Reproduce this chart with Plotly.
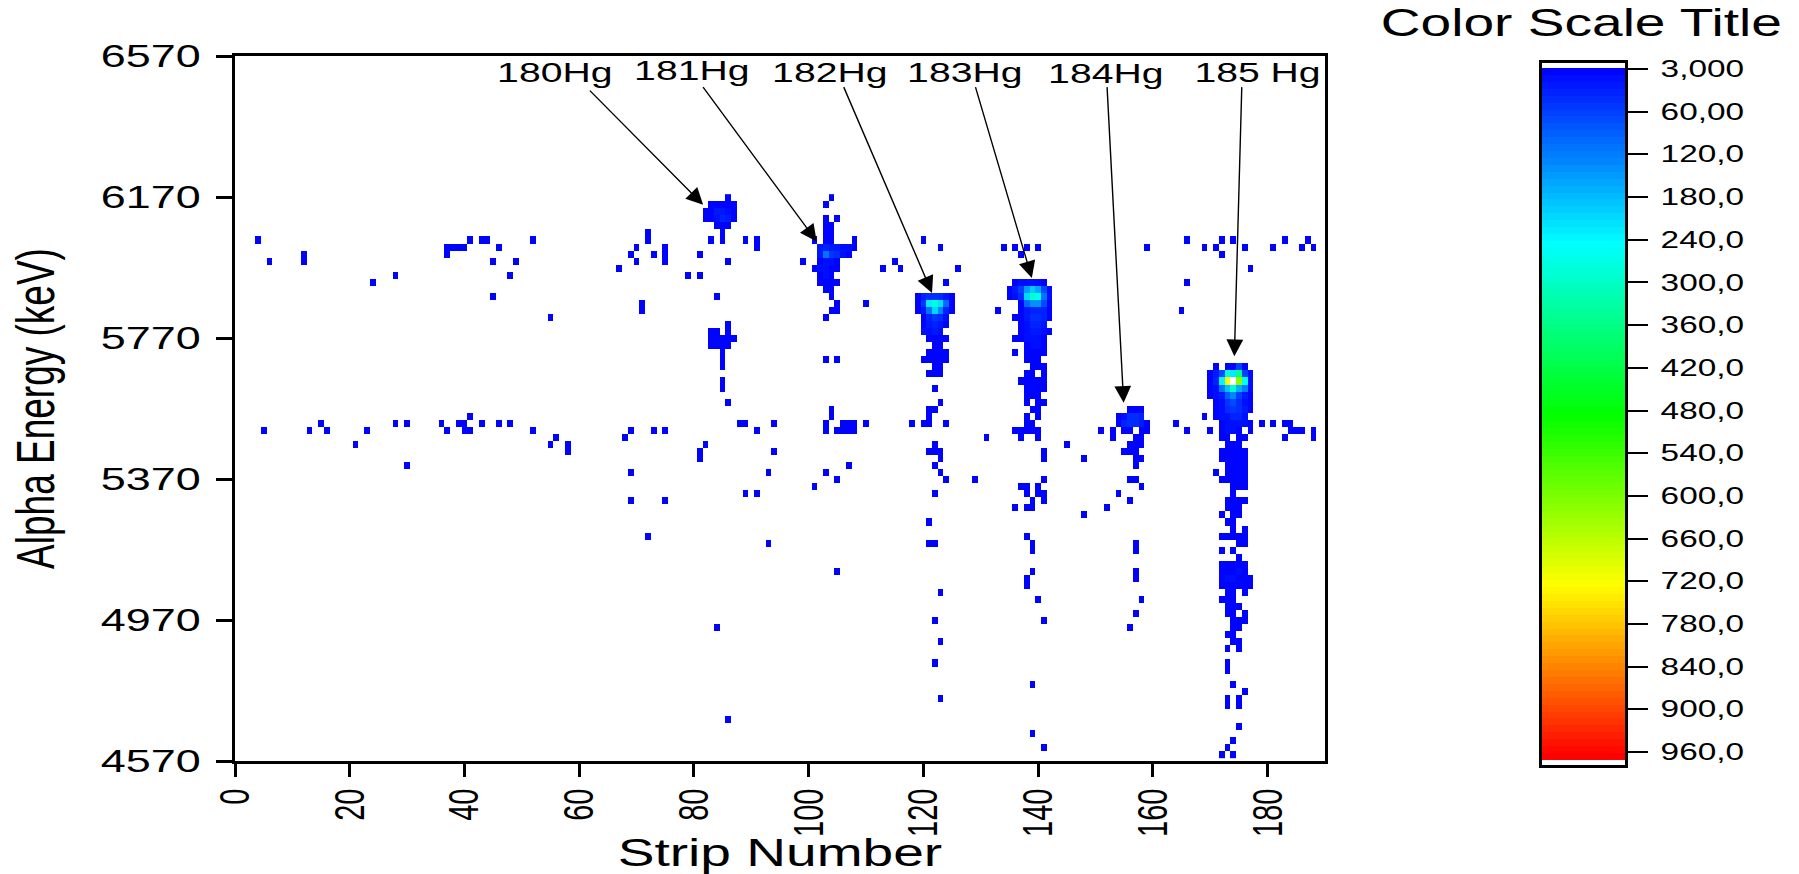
import numpy as np
import plotly.graph_objects as go

strips = list(range(0, 190))
energies = [6168 - 20 * i for i in range(80)]

# Cells with a few counts, listed per energy row (keV -> strip numbers)
low_count_cells = {
    6168: [86, 104],
    6148: [83, 84, 85, 86, 87, 103],
    6128: [82, 83, 84, 85, 86, 87],
    6108: [82, 83, 84, 85, 86, 87, 103, 105],
    6088: [84, 85, 86, 103, 104],
    6068: [72, 85, 103, 104],
    6048: [4, 41, 43, 44, 52, 72, 83, 85, 89, 91, 101, 103, 104, 108, 120, 166, 172, 174, 183, 187],
    6028: [37, 38, 39, 40, 46, 70, 75, 91, 102, 103, 104, 105, 106, 107, 108, 123, 134, 136, 138, 140, 159, 169, 171, 176, 181, 186, 188],
    6008: [12, 37, 69, 73, 75, 81, 102, 103, 104, 105, 106, 107, 137, 172],
    5988: [6, 12, 45, 49, 70, 75, 86, 99, 102, 103, 104, 105, 115],
    5968: [67, 101, 102, 103, 104, 105, 113, 116, 126, 177],
    5948: [28, 48, 79, 81, 102, 103, 104],
    5928: [24, 102, 103, 104, 105, 124, 136, 137, 138, 139, 140, 141, 166],
    5908: [103, 104, 135, 136, 137, 138, 139, 140, 141, 142],
    5888: [45, 84, 104, 119, 120, 121, 122, 123, 124, 125, 135, 136, 137, 138, 139, 140, 141, 142],
    5868: [71, 105, 110, 119, 120, 121, 122, 123, 124, 125, 137, 138, 139, 140, 141, 142],
    5848: [71, 104, 105, 119, 120, 121, 122, 123, 124, 125, 133, 137, 138, 139, 140, 141, 142, 165],
    5828: [55, 103, 120, 121, 122, 123, 124, 136, 137, 138, 139, 140, 141, 142],
    5808: [86, 120, 121, 122, 123, 124, 137, 138, 139, 140, 141],
    5788: [83, 84, 86, 120, 121, 122, 123, 137, 138, 139, 140, 141, 142],
    5768: [83, 84, 85, 86, 87, 121, 122, 123, 124, 136, 137, 138, 139, 140, 141],
    5748: [83, 84, 85, 86, 122, 123, 138, 139, 140, 141],
    5728: [85, 121, 122, 123, 124, 136, 138, 139, 140, 141],
    5708: [85, 103, 105, 120, 121, 122, 123, 124, 138, 139, 140],
    5688: [85, 122, 123, 139, 140, 141, 171, 173, 174, 175, 176],
    5668: [121, 122, 123, 138, 139, 141, 170, 171, 172, 173, 174, 175, 176, 177],
    5648: [85, 137, 138, 139, 140, 141, 170, 171, 172, 173, 175, 176, 177],
    5628: [85, 122, 138, 139, 140, 141, 170, 171, 172, 173, 174, 175, 176, 177],
    5608: [138, 139, 140, 170, 171, 172, 173, 174, 175, 176, 177],
    5588: [86, 123, 138, 140, 141, 171, 172, 173, 174, 175, 176, 177],
    5568: [104, 121, 122, 139, 140, 156, 157, 158, 171, 172, 173, 174, 175, 176, 177],
    5548: [41, 104, 121, 138, 140, 154, 155, 156, 157, 158, 169, 171, 172, 173, 174, 175, 176],
    5528: [15, 28, 30, 36, 39, 40, 43, 46, 48, 88, 89, 94, 103, 106, 107, 108, 110, 118, 120, 121, 124, 138, 139, 154, 155, 156, 157, 158, 159, 164, 172, 173, 174, 175, 176, 177, 179, 181, 183, 184],
    5508: [5, 13, 16, 23, 37, 40, 41, 52, 69, 73, 75, 91, 103, 105, 106, 107, 108, 136, 137, 138, 139, 140, 151, 153, 155, 156, 158, 159, 166, 170, 172, 173, 174, 175, 177, 184, 185, 186, 188],
    5488: [56, 68, 131, 137, 140, 153, 157, 158, 172, 173, 175, 176, 183, 188],
    5468: [21, 55, 58, 82, 122, 145, 156, 157, 158, 173, 174, 175],
    5448: [58, 81, 94, 121, 122, 123, 141, 155, 156, 157, 172, 173, 174, 175, 176],
    5428: [81, 123, 141, 148, 157, 158, 172, 173, 174, 175, 176],
    5408: [30, 107, 122, 157, 173, 174, 175, 176],
    5388: [69, 93, 103, 123, 171, 173, 174, 175, 176],
    5368: [105, 124, 129, 141, 156, 157, 172, 173, 174, 175, 176],
    5348: [101, 137, 138, 140, 158, 174, 175, 176],
    5328: [89, 91, 122, 138, 140, 141, 154, 174],
    5308: [69, 75, 139, 141, 156, 173, 174, 175, 176],
    5288: [136, 138, 139, 152, 173, 174, 175],
    5268: [148, 172, 174, 175],
    5248: [121, 173, 174],
    5228: [174, 176],
    5208: [72, 138, 172, 173, 174, 175, 176],
    5188: [93, 121, 122, 139, 157, 175, 176],
    5168: [139, 157, 172, 174],
    5148: [175],
    5128: [172, 173, 174, 175, 176],
    5108: [105, 139, 157, 172, 173, 174, 175, 176],
    5088: [138, 157, 172, 173, 174, 175, 176, 177],
    5068: [138, 172, 173, 174, 175, 176, 177],
    5048: [123, 173, 174, 176],
    5028: [140, 158, 172, 173, 174],
    5008: [173, 174, 175],
    4988: [157, 173, 174, 176],
    4968: [122, 141, 174, 175, 176],
    4948: [84, 156, 174, 175],
    4928: [173, 174],
    4908: [123, 174, 175],
    4888: [173, 175],
    4848: [122, 173],
    4828: [173],
    4788: [139, 174],
    4768: [176],
    4748: [123, 173, 175],
    4728: [173, 175],
    4688: [86],
    4668: [175],
    4648: [139],
    4628: [174],
    4608: [141, 173],
    4588: [172, 174],
}
low_count = 4

# Cells with higher counts: energy row -> {strip: counts}
peak_cells = {
    6128: {84: 20, 85: 25, 86: 15},
    6108: {84: 18, 85: 35, 86: 20},
    6028: {102: 25, 103: 30, 104: 25, 105: 25, 106: 12, 107: 12},
    6008: {102: 20, 103: 110, 104: 50, 105: 40, 106: 15},
    5988: {103: 15, 104: 12},
    5968: {102: 15, 103: 18},
    5948: {103: 15},
    5928: {137: 12, 138: 18, 139: 15, 140: 15},
    5908: {136: 20, 137: 60, 138: 150, 139: 200, 140: 160, 141: 70, 142: 10},
    5888: {120: 30, 121: 40, 122: 42, 123: 40, 124: 25,
           136: 15, 137: 40, 138: 210, 139: 300, 140: 270, 141: 110, 142: 10},
    5868: {120: 50, 121: 230, 122: 290, 123: 220, 124: 100,
           138: 100, 139: 140, 140: 140, 141: 70, 142: 8},
    5848: {120: 20, 121: 110, 122: 210, 123: 130, 124: 30,
           138: 20, 139: 35, 140: 30, 141: 30},
    5828: {121: 30, 122: 50, 123: 40, 124: 15,
           138: 25, 139: 40, 140: 40, 141: 30},
    5808: {120: 8, 121: 20, 122: 35, 123: 20, 124: 8,
           138: 15, 139: 30, 140: 30, 141: 20},
    5788: {120: 10, 121: 15, 122: 25, 123: 10,
           138: 12, 139: 20, 140: 20, 141: 10},
    5768: {138: 10, 139: 12, 140: 12},
    5748: {139: 10, 140: 10},
    5688: {175: 60},
    5668: {171: 20, 172: 70, 173: 280, 174: 230, 175: 350, 176: 60, 177: 10},
    5648: {171: 30, 172: 240, 173: 720, 174: 975, 175: 620, 176: 260, 177: 15},
    5628: {171: 12, 172: 110, 173: 190, 174: 300, 175: 170, 176: 120, 177: 10},
    5608: {171: 10, 172: 25, 173: 90, 174: 130, 175: 60, 176: 20},
    5588: {172: 15, 173: 55, 174: 70, 175: 40, 176: 15},
    5568: {172: 12, 173: 40, 174: 50, 175: 40, 176: 20},
    5548: {155: 12, 156: 40, 157: 45, 158: 30, 172: 12, 173: 15, 174: 30, 175: 30, 176: 15},
    5528: {155: 30, 156: 40, 157: 45, 158: 20, 173: 15, 174: 15, 175: 15, 176: 12},
    5508: {173: 10, 174: 10},
    5108: {175: 12},
    5088: {173: 18, 174: 12},
}

x_ticks = [0, 20, 40, 60, 80, 100, 120, 140, 160, 180]
y_ticks = [4570, 4970, 5370, 5770, 6170, 6570]
bar_ticks = [0, 60, 120, 180, 240, 300, 360, 420, 480, 540, 600, 660, 720, 780, 840, 900, 960]
bar_labels = ["3,000", "60,00", "120,0", "180,0", "240,0", "300,0", "360,0", "420,0", "480,0",
              "540,0", "600,0", "660,0", "720,0", "780,0", "840,0", "900,0", "960,0"]

# label, label strip, label energy, arrow tail strip, tail energy, head strip, head energy
isotope_names = ["180Hg", "181Hg", "182Hg", "183Hg", "184Hg", "185 Hg"]
label_strip = [55.8, 79.6, 103.7, 127.2, 151.8, 178.3]
label_energy = [6521, 6528, 6521, 6521, 6518, 6521]
tail_strip = [61.6, 81.4, 106, 129, 152, 175.5]
tail_energy = [6476, 6486, 6486, 6486, 6486, 6486]
head_strip = [81.6, 101.4, 121.5, 138.9, 154.9, 174.2]
head_energy = [6148, 6044, 5898, 5940, 5586, 5718]

z = np.full((len(energies), len(strips)), np.nan)
for e, row in low_count_cells.items():
    for s in row:
        z[energies.index(e), strips.index(s)] = low_count
for e, row in peak_cells.items():
    for s, v in row.items():
        z[energies.index(e), strips.index(s)] = v

# Banded rainbow colour scale, white outside the scale's ends
Z_MIN, Z_MAX = -8.7, 977.4
LOW, HIGH, N = -1.4, 971.0, 100


def rainbow(v):
    stops = [(0, (0, 0, 255)), (245, (0, 255, 255)), (485, (0, 255, 0)), (725, (255, 255, 0)), (965, (255, 0, 0))]
    v = min(max(v, 0), 965)
    for (a, ca), (b, cb) in zip(stops, stops[1:]):
        if v <= b:
            t = (v - a) / (b - a)
            c = [round(p + (q - p) * t) for p, q in zip(ca, cb)]
            return f"rgb({c[0]},{c[1]},{c[2]})"


def frac(v):
    return (v - Z_MIN) / (Z_MAX - Z_MIN)


scale = [[0, "white"], [frac(LOW), "white"]]
step = (HIGH - LOW) / N
for i in range(N):
    a, b = LOW + i * step, LOW + (i + 1) * step
    col = rainbow((a + b) / 2)
    scale += [[frac(a), col], [frac(b), col]]
scale += [[frac(HIGH), "white"], [1, "white"]]

bar_levels = [LOW + (i + 0.5) * step for i in range(N)]

W, H = 1799, 874
fig = go.Figure()
fig.add_trace(go.Heatmap(x=strips, y=energies, z=z, zmin=Z_MIN, zmax=Z_MAX, colorscale=scale,
                         showscale=False, hoverongaps=False, xaxis="x", yaxis="y"))
fig.add_trace(go.Heatmap(x=[0], y=bar_levels, z=[[v] for v in bar_levels], zmin=Z_MIN, zmax=Z_MAX,
                         colorscale=scale, showscale=False, xaxis="x2", yaxis="y2"))

FONT = "Liberation Sans"
axis_common = dict(showgrid=False, zeroline=False, showline=True, mirror=True, linecolor="black",
                   linewidth=3, tickcolor="black", automargin=False)
fig.update_layout(
    xaxis=dict(domain=[235 / W, 1325 / W], range=[0, 190], tickvals=x_ticks, tickangle=-90, ticks="outside",
               ticklen=13, tickwidth=3, anchor="y",
               tickfont=dict(family=FONT, size=29, color="black"),
               title=dict(text="Strip Number", font=dict(family=FONT, size=38, color="black"), standoff=11),
               **axis_common),
    yaxis=dict(domain=[(H - 761) / H, (H - 56) / H], range=[4570, 6570], tickvals=y_ticks, ticks="outside",
               ticklen=16, tickwidth=3, ticklabelstandoff=9, anchor="x",
               tickfont=dict(family=FONT, size=31, color="black"),
               title=dict(text="Alpha Energy (keV)", font=dict(family=FONT, size=37, color="black"), standoff=72),
               **axis_common),
    xaxis2=dict(domain=[1542 / W, 1625 / W], range=[-0.5, 0.5], showticklabels=False, ticks="", anchor="y2",
                **axis_common),
    yaxis2=dict(domain=[(H - 764.5) / H, (H - 62.8) / H], range=[Z_MAX, Z_MIN], side="right", anchor="x2",
                tickvals=bar_ticks, ticktext=bar_labels, ticks="outside", ticklen=20, tickwidth=2,
                ticklabelstandoff=8, tickfont=dict(family=FONT, size=23, color="black"), **axis_common),
)

annotations = []
for name, lx, ly, tx, ty, hx, hy in zip(isotope_names, label_strip, label_energy, tail_strip, tail_energy, head_strip, head_energy):
    annotations.append(dict(x=hx, y=hy, ax=tx, ay=ty, xref="x", yref="y", axref="x", ayref="y", text="",
                            showarrow=True, arrowhead=2, arrowsize=2.4, arrowwidth=1.4, arrowcolor="black", standoff=0))
    annotations.append(dict(x=lx, y=ly, xref="x", yref="y", text=name, showarrow=False,
                            font=dict(family=FONT, size=27, color="black")))
annotations.append(dict(x=1581.5 / W, y=1 - 23 / H, xref="paper", yref="paper", xanchor="center", yanchor="middle",
                        text="Color Scale Title", showarrow=False, font=dict(family=FONT, size=38, color="black")))

fig.update_layout(width=W, height=H, margin=dict(l=0, r=0, t=0, b=0), plot_bgcolor="white",
                  paper_bgcolor="white", annotations=annotations, showlegend=False)

# The reference's lettering is stretched sideways; widen every text about its own anchor.
stretch_js = """
document.body.style.margin = '0';
var S = 1.45;
document.querySelectorAll('.main-svg text').forEach(function (t) {
  var r = t.getBoundingClientRect();
  var old = t.getAttribute('transform') || '';
  var anchor = window.getComputedStyle(t).textAnchor;
  var sx = (r.left + r.right) / 2;
  if (old.indexOf('rotate') < 0) {
    if (anchor === 'end') sx = r.right;
    if (anchor === 'start') sx = r.left;
  }
  var p = t.parentNode.getScreenCTM();
  var x = (sx - p.e) / p.a;
  t.setAttribute('transform', 'translate(' + x + ',0) scale(' + S + ',1) translate(' + (-x) + ',0) ' + old);
});
"""
fig.write_html("out.html", post_script=stretch_js, config={"displayModeBar": False})
